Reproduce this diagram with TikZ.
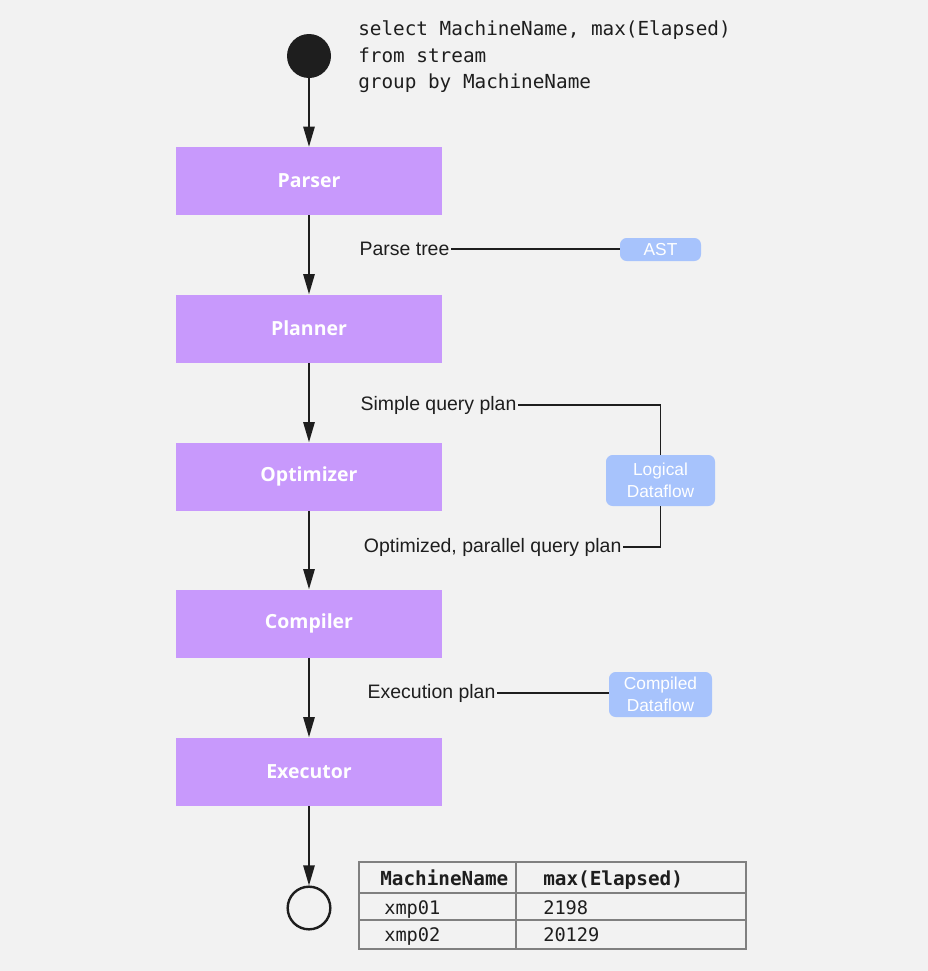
\documentclass[tikz,border=0pt]{standalone}
\usepackage{fontspec}
\setmainfont{Liberation Sans}
\setmonofont{DejaVu Sans Mono}
\newfontfamily\boxfont{Open Sans}
\usepackage{tikz}
\usetikzlibrary{positioning, arrows.meta, calc}

\definecolor{bgGray}{HTML}{F2F2F2}
\definecolor{stagePurple}{HTML}{C899FC}
\definecolor{dataBlue}{HTML}{A7C3FC}
\definecolor{inkDark}{HTML}{1E1E1E}
\definecolor{tabGray}{HTML}{808080}

\begin{document}
\begin{tikzpicture}[
  x=0.75pt, y=-0.75pt,
  stage/.style={rectangle, fill=stagePurple, minimum width=199.5pt, minimum height=51pt,
                text=white, font=\boxfont\bfseries\fontsize{14.6}{16}\selectfont},
  data/.style={rectangle, rounded corners=5pt, fill=dataBlue, text=white, align=center,
               inner sep=0pt, font=\fontsize{13}{16.5}\selectfont},
  lab/.style={font=\fontsize{14.6}{16}\selectfont, text=inkDark, anchor=east, inner sep=1pt},
  arr/.style={-{Triangle[length=15pt, width=8.5pt]}, line width=1.2pt, draw=inkDark},
  link/.style={line width=1.2pt, draw=inkDark},
  cell/.style={font=\ttfamily\fontsize{14}{16}\selectfont, text=inkDark, anchor=base west, inner sep=0pt},
]
  % background
  \fill[bgGray] (0,0) rectangle (928,971);
  \useasboundingbox (0,0) rectangle (928,971);

  % start / end
  \node[circle, fill=inkDark, minimum size=33pt, inner sep=0pt] (start) at (309,56) {};
  \node[circle, draw=inkDark, line width=1.8pt, fill=bgGray, minimum size=32pt, inner sep=0pt] (stop) at (309,908) {};

  % query text
  \node[anchor=west, align=left, inner sep=0pt, text=inkDark,
        font=\ttfamily\fontsize{14.5}{20}\selectfont] (query) at (358,57)
    {select MachineName, max(Elapsed)\\from stream\\group by MachineName};

  % stages
  \foreach \y/\n/\t in {181/parser/Parser, 328.5/planner/Planner, 476.5/optimizer/Optimizer,
                        623.5/compiler/Compiler, 771.5/executor/Executor}
    \node[stage] (\n) at (309,\y) {\t};

  \foreach \a/\b in {start/parser, parser/planner, planner/optimizer,
                     optimizer/compiler, compiler/executor, executor/stop}
    \draw[arr] (\a) -- (\b);

  % intermediate forms
  \node[lab] (ptree) at (451,249) {Parse tree};
  \node[data, minimum width=60.75pt, minimum height=17.25pt] (ast) at (660.5,249.5) {AST};
  \draw[link] (ptree.east) -- (ptree.east -| ast.west);

  \node[lab] (sqp) at (518,405) {Simple query plan};
  \node[lab] (oqp) at (623,547) {Optimized, parallel query plan};
  \node[data, minimum width=81.75pt, minimum height=38.25pt] (logical) at (660.5,480.5)
    {Logical\\Dataflow};
  \draw[link] (sqp) -| (logical);
  \draw[link] (logical) |- (oqp);

  \node[lab] (eplan) at (497,693) {Execution plan};
  \node[data, minimum width=77.25pt, minimum height=33.75pt] (compiled) at (660.5,694.5)
    {Compiled\\Dataflow};
  \draw[link] (eplan.east) -- (eplan.east -| compiled.west);

  % result table
  \draw[tabGray, line width=1.9pt] (359,862) rectangle (746,949);
  \draw[tabGray, line width=1.9pt] (359,893) -- (746,893);
  \draw[tabGray, line width=1.9pt] (359,920) -- (746,920);
  \draw[tabGray, line width=1.9pt] (516,862) -- (516,949);

  \node[cell, font=\ttfamily\bfseries\fontsize{14.5}{16}\selectfont] (h1) at (380,885) {MachineName};
  \node[cell, font=\ttfamily\bfseries\fontsize{14.5}{16}\selectfont] (h2) at (543,885) {max(Elapsed)};
  \foreach \y/\m/\v in {914/xmp01/2198, 941/xmp02/20129} {
    \node[cell] at (384,\y) {\m};
    \node[cell] at (543,\y) {\v};
  }
\end{tikzpicture}
\end{document}
